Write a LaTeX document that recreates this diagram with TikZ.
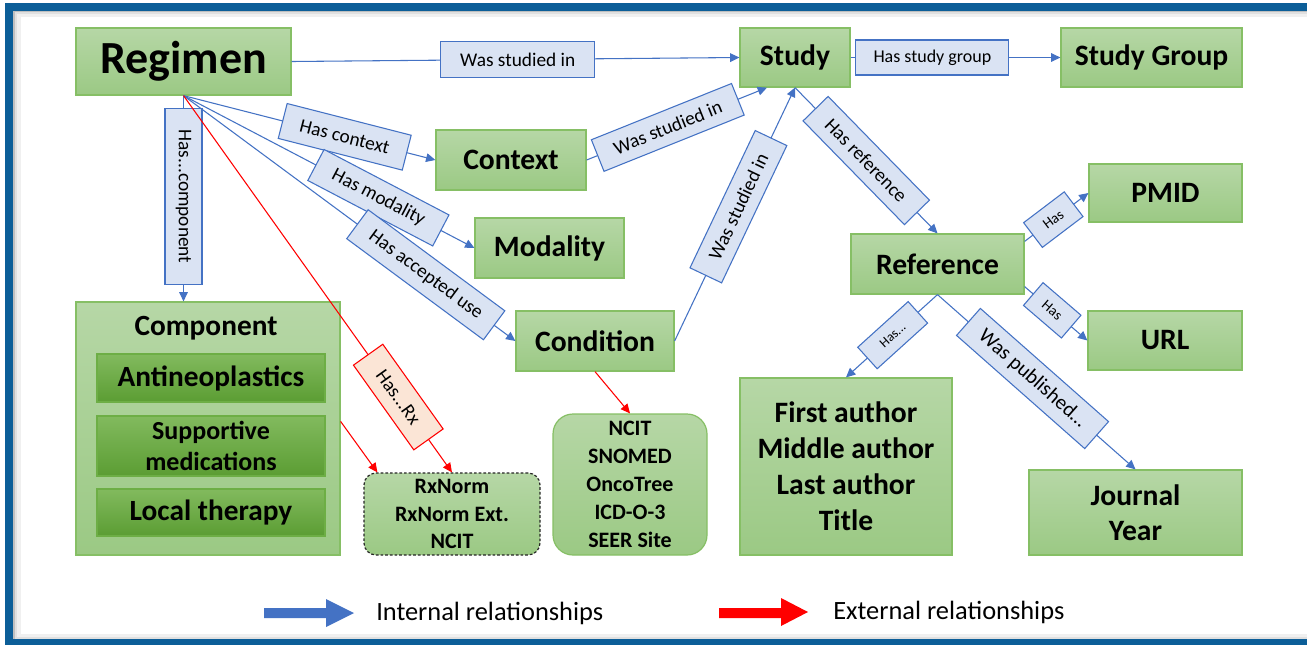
\documentclass[tikz,border=0pt]{standalone}
\usepackage{fontspec}
\setmainfont{Carlito}
\usetikzlibrary{arrows.meta,calc}
\definecolor{frameblue}{HTML}{0C5E98}
\definecolor{gtop}{HTML}{B6D7A6}
\definecolor{gbot}{HTML}{9BC984}
\definecolor{gborder}{HTML}{86BF65}
\definecolor{dtop}{HTML}{82BA5E}
\definecolor{dbot}{HTML}{5B9D33}
\definecolor{dborder}{HTML}{6DAE45}
\definecolor{lblfill}{HTML}{DAE3F3}
\definecolor{lblline}{HTML}{4472C4}
\definecolor{pinkfill}{HTML}{FBE5D6}
\definecolor{extred}{HTML}{FF0000}
\tikzset{
  px/.style 2 args={minimum width=#1*0.75pt, minimum height=#2*0.75pt},
  gbox/.style={draw=gborder, line width=0.9pt, top color=gtop, bottom color=gbot,
    align=center, inner sep=0pt, font=\bfseries\fontsize{22.2}{27}\selectfont},
  dbox/.style={draw=dborder, line width=0.8pt, top color=dtop, bottom color=dbot,
    align=center, inner sep=0pt, font=\bfseries\fontsize{22}{27}\selectfont},
  lbl/.style={draw=lblline, fill=lblfill, line width=0.8pt, inner sep=0pt,
    font=\fontsize{14.5}{16}\selectfont},
  xlbl/.style={draw=extred, fill=pinkfill, line width=0.8pt, inner sep=0pt,
    font=\fontsize{14.5}{16}\selectfont},
  conn/.style={draw=lblline, line width=0.8pt, -{Triangle[length=7pt,width=6.5pt]}},
  ext/.style={draw=extred, line width=0.8pt, -{Triangle[length=7pt,width=6.5pt]}},
  legtext/.style={anchor=west, inner sep=0pt, font=\fontsize{19.8}{22}\selectfont}
}
\begin{document}
\begin{tikzpicture}[x=0.75pt, y=-0.75pt]
\useasboundingbox (0,0) rectangle (1307,644);
\clip (0,0) rectangle (1307,644);
\fill[white] (0,0) rectangle (1307,644);
% frame with shadow
\draw[black!6, line width=3pt] (18.5,14.5) rectangle (1330,636);
\draw[black!12, line width=2pt] (16,12.5) rectangle (1330,638);
\draw[black!25, line width=1.5pt] (13.5,11) rectangle (1330,640);
\draw[frameblue, line width=6pt] (8.5,6.5) rectangle (1330,643);

% main nodes
\node[gbox, px={215}{67}, font=\bfseries\fontsize{34.5}{38}\selectfont] (regimen) at (183.5,61.5) {Regimen};
\node[gbox, px={110}{59}] (study) at (795,57.5) {Study};
\node[gbox, px={181}{59}] (studygroup) at (1151.5,57.5) {Study Group};
\node[gbox, px={150}{60}] (context) at (511,160) {Context};
\node[gbox, px={149}{60}] (modality) at (549.5,248) {Modality};
\node[gbox, px={158}{60}] (condition) at (595,341) {Condition};
\node[gbox, px={173}{60}] (reference) at (937.5,264) {Reference};
\node[gbox, px={153}{58}] (pmid) at (1165.5,193) {PMID};
\node[gbox, px={154}{59}] (url) at (1165,340.5) {URL};
\node[gbox, px={264}{253}] (component) at (208,428.5) {};
\node[font=\bfseries\fontsize{22}{24}\selectfont, inner sep=0pt] (comptitle) at (206,328) {Component};
\node[dbox, px={228}{48}] (antineo) at (211,378) {Antineoplastics};
\node[dbox, px={228}{60}, font=\bfseries\fontsize{19.5}{23.5}\selectfont] (support) at (211,446) {Supportive\\medications};
\node[dbox, px={228}{47}] (local) at (211,512.5) {Local therapy};
\node[gbox, px={176}{82}, draw=black!85, dash pattern=on 2pt off 1.5pt, rounded corners=9pt,
  font=\bfseries\fontsize{16.5}{20.6}\selectfont] (rxnorm) at (452,514) {RxNorm\\RxNorm Ext.\\NCIT};
\node[gbox, px={154}{141}, rounded corners=15pt,
  font=\bfseries\fontsize{16.5}{21}\selectfont] (ncit) at (630,484.5) {NCIT\\SNOMED\\OncoTree\\ICD-O-3\\SEER Site};
\node[gbox, px={212}{177}, font=\bfseries\fontsize{22.2}{27}\selectfont] (authors) at (846,466.5) {First author\\Middle author\\Last author\\Title};
\node[gbox, px={213}{85}, font=\bfseries\fontsize{22.2}{26.5}\selectfont] (journal) at (1135.5,512.5) {Journal\\Year};

% connectors
\draw[conn] (regimen.east) -- (study.west) node[lbl, px={154}{36}, pos=0.505] (l1) {Was studied in};
\draw[conn] (study.east) -- (studygroup.west) node[lbl, px={153}{35}, pos=0.39, font=\fontsize{13.5}{15}\selectfont] (l2) {Has study group};
\draw[conn] (regimen.south) -- (regimen.south |- component.north) node[lbl, px={176}{37}, pos=0.49, rotate=-90] (l3) {Has...component};
\draw[conn] (regimen.south) -- (context.west) node[lbl, px={128}{36}, pos=0.64, sloped] (l4) {Has context};
\draw[conn] (regimen.south) -- (modality.west) node[lbl, px={141}{35}, pos=0.67, sloped] (l5) {Has modality};
\draw[conn] (regimen.south) -- (condition.west) node[lbl, px={170}{36}, pos=0.73, sloped] (l6) {Has accepted use};
\draw[ext] (regimen.south) -- (rxnorm.north) node[xlbl, px={104}{36}, pos=0.80, sloped] (l7) {Has...Rx};
\draw[ext] ($(component.north east)+(0,120)$) -- ($(rxnorm.north west)+(14,0)$);
\draw[ext] (condition.south) -- (ncit.north);
\draw[conn] (context.east) -- ($(study.south)+(-28,0)$) node[lbl, px={151}{34}, pos=0.45, sloped] (l8) {Was studied in};
\draw[conn] (condition.east) -- (study.south) node[lbl, px={152}{35}, pos=0.53, sloped] (l9) {Was studied in};
\draw[conn] (study.south) -- (reference.north) node[lbl, px={145}{35}, pos=0.5, sloped] (l10) {Has reference};
\draw[conn] ($(reference.north east)+(0,8)$) -- (pmid.west) node[lbl, px={51}{31}, pos=0.45, sloped, font=\fontsize{11}{12}\selectfont] (l11) {Has};
\draw[conn] ($(reference.south east)+(0,-8)$) -- (url.west) node[lbl, px={50}{30}, pos=0.44, sloped, font=\fontsize{11}{12}\selectfont] (l12) {Has};
\draw[conn] (reference.south) -- (authors.north) node[lbl, px={68}{29}, pos=0.49, sloped, font=\fontsize{10}{11}\selectfont] (l13) {Has...};
\draw[conn] (reference.south) -- (journal.north) node[lbl, px={171}{36}, pos=0.48, sloped, font=\fontsize{15.5}{17}\selectfont] (l14) {Was published…};

% legend
\fill[lblline] (264,608) -- (326,608) -- (326,599) -- (354,613) -- (326,627) -- (326,618) -- (264,618) -- cycle;
\node[legtext] (leg1) at (376,613) {Internal relationships};
\fill[extred] (719,608) -- (781,608) -- (781,598) -- (808,612) -- (781,626) -- (781,618) -- (719,618) -- cycle;
\node[legtext] (leg2) at (833,612) {External relationships};
\end{tikzpicture}
\end{document}
